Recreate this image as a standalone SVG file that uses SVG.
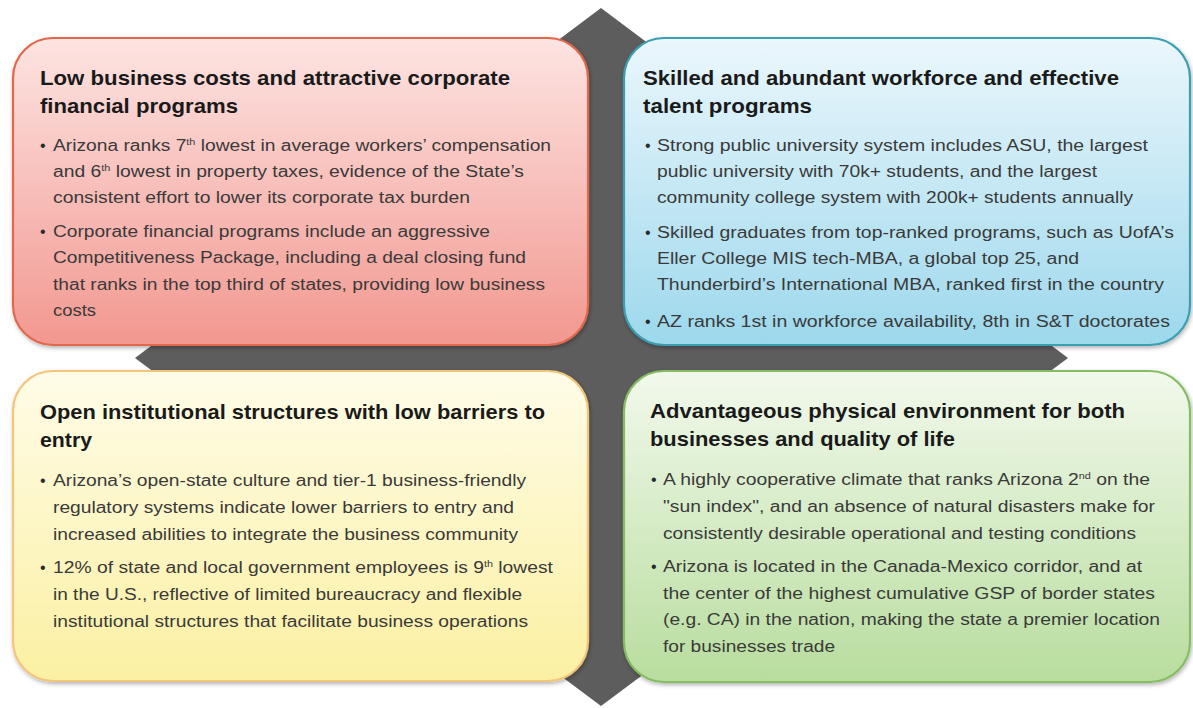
<svg xmlns="http://www.w3.org/2000/svg" width="1193" height="708" viewBox="0 0 1193 708">
<style>
.t{font-family:"Liberation Sans",Arial,sans-serif;font-weight:bold;font-size:21px;fill:#1a1a1a}
.b{font-family:"Liberation Sans",Arial,sans-serif;font-size:16px;fill:#3a3a3a}
.d{font-family:"Liberation Sans",Arial,sans-serif;font-size:16px;fill:#2a2a2a}
.sup{font-size:9px}
.box{stroke-width:2.2}
</style>
<defs>
<linearGradient id="gr" x1="0" y1="0" x2="0" y2="1"><stop offset="0" stop-color="#fde4e2"/><stop offset="1" stop-color="#f29890"/></linearGradient>
<linearGradient id="gb" x1="0" y1="0" x2="0" y2="1"><stop offset="0" stop-color="#ebf7fc"/><stop offset="1" stop-color="#9dd8ec"/></linearGradient>
<linearGradient id="gy" x1="0" y1="0" x2="0" y2="1"><stop offset="0" stop-color="#fffce8"/><stop offset="1" stop-color="#fbf0a2"/></linearGradient>
<linearGradient id="gg" x1="0" y1="0" x2="0" y2="1"><stop offset="0" stop-color="#f2f9ec"/><stop offset="1" stop-color="#b8dd9e"/></linearGradient>
<filter id="sh" x="-5%" y="-5%" width="110%" height="115%"><feDropShadow dx="1" dy="2" stdDeviation="2" flood-color="#000" flood-opacity="0.3"/></filter>
</defs>
<rect width="1193" height="708" fill="#ffffff"/>
<g id="connectors">
<polygon id="diamond" points="601,8 1068,358 601,706 135,358" fill="#5d5d5d"/>
</g>
<g id="node-costs">
<rect class="box" x="13" y="38" width="575" height="307" rx="40" fill="url(#gr)" stroke="#e2684c" filter="url(#sh)"/>
<text class="t" x="40" y="85" textLength="470" lengthAdjust="spacingAndGlyphs">Low business costs and attractive corporate</text>
<text class="t" x="40" y="113" textLength="198" lengthAdjust="spacingAndGlyphs">financial programs</text>
<text class="d" x="40" y="151">•</text>
<text class="b" x="53" y="151" textLength="498" lengthAdjust="spacingAndGlyphs">Arizona ranks 7<tspan class="sup" dy="-6">th</tspan><tspan dy="6"> lowest in average workers’ compensation</tspan></text>
<text class="b" x="53" y="177" textLength="471" lengthAdjust="spacingAndGlyphs">and 6<tspan class="sup" dy="-6">th</tspan><tspan dy="6"> lowest in property taxes, evidence of the State’s</tspan></text>
<text class="b" x="53" y="203" textLength="417" lengthAdjust="spacingAndGlyphs">consistent effort to lower its corporate tax burden</text>
<text class="d" x="40" y="237">•</text>
<text class="b" x="53" y="237" textLength="437" lengthAdjust="spacingAndGlyphs">Corporate financial programs include  an aggressive</text>
<text class="b" x="53" y="263" textLength="473" lengthAdjust="spacingAndGlyphs">Competitiveness Package,  including  a deal closing  fund</text>
<text class="b" x="53" y="290" textLength="492" lengthAdjust="spacingAndGlyphs">that ranks in the top third of states,  providing low business</text>
<text class="b" x="53" y="316" textLength="43" lengthAdjust="spacingAndGlyphs">costs</text>
</g>
<g id="node-workforce">
<rect class="box" x="624" y="38" width="566" height="307" rx="40" fill="url(#gb)" stroke="#3a9fb1" filter="url(#sh)"/>
<text class="t" x="643" y="85" textLength="476" lengthAdjust="spacingAndGlyphs">Skilled and abundant workforce and effective</text>
<text class="t" x="643" y="113" textLength="169" lengthAdjust="spacingAndGlyphs">talent programs</text>
<text class="d" x="645" y="151">•</text>
<text class="b" x="657" y="151" textLength="491" lengthAdjust="spacingAndGlyphs">Strong public university  system  includes ASU, the largest</text>
<text class="b" x="657" y="177" textLength="440" lengthAdjust="spacingAndGlyphs">public university with 70k+ students,  and the largest</text>
<text class="b" x="657" y="203" textLength="476" lengthAdjust="spacingAndGlyphs">community college  system  with 200k+ students annually</text>
<text class="d" x="645" y="238">•</text>
<text class="b" x="657" y="238" textLength="517" lengthAdjust="spacingAndGlyphs">Skilled graduates from top-ranked programs, such  as UofA’s</text>
<text class="b" x="657" y="264" textLength="422" lengthAdjust="spacingAndGlyphs">Eller College MIS tech-MBA,  a global top 25,  and</text>
<text class="b" x="657" y="290" textLength="507" lengthAdjust="spacingAndGlyphs">Thunderbird’s International MBA,  ranked first in the country</text>
<text class="d" x="645" y="327">•</text>
<text class="b" x="657" y="327" textLength="513" lengthAdjust="spacingAndGlyphs">AZ ranks 1st in workforce availability,  8th in S&amp;T doctorates</text>
</g>
<g id="node-institutional">
<rect class="box" x="13" y="371" width="575" height="310" rx="40" fill="url(#gy)" stroke="#f3c57a" filter="url(#sh)"/>
<text class="t" x="40" y="419" textLength="505" lengthAdjust="spacingAndGlyphs">Open institutional structures with low barriers to</text>
<text class="t" x="40" y="447" textLength="52" lengthAdjust="spacingAndGlyphs">entry</text>
<text class="d" x="40" y="486">•</text>
<text class="b" x="53" y="486" textLength="473" lengthAdjust="spacingAndGlyphs">Arizona’s open-state culture  and tier-1 business-friendly</text>
<text class="b" x="53" y="513" textLength="461" lengthAdjust="spacingAndGlyphs">regulatory systems  indicate  lower barriers to entry and</text>
<text class="b" x="53" y="540" textLength="465" lengthAdjust="spacingAndGlyphs">increased abilities  to integrate the business  community</text>
<text class="d" x="40" y="573">•</text>
<text class="b" x="53" y="573" textLength="500" lengthAdjust="spacingAndGlyphs">12% of state  and local government employees  is 9<tspan class="sup" dy="-6">th</tspan><tspan dy="6"> lowest</tspan></text>
<text class="b" x="53" y="600" textLength="469" lengthAdjust="spacingAndGlyphs">in the U.S., reflective  of limited  bureaucracy and flexible</text>
<text class="b" x="53" y="627" textLength="475" lengthAdjust="spacingAndGlyphs">institutional structures  that facilitate  business  operations</text>
</g>
<g id="node-environment">
<rect class="box" x="624" y="371" width="566" height="311" rx="40" fill="url(#gg)" stroke="#86bd62" filter="url(#sh)"/>
<text class="t" x="650" y="418" textLength="475" lengthAdjust="spacingAndGlyphs">Advantageous physical environment for both</text>
<text class="t" x="650" y="446" textLength="305" lengthAdjust="spacingAndGlyphs">businesses and quality of life</text>
<text class="d" x="651" y="485">•</text>
<text class="b" x="663" y="485" textLength="487" lengthAdjust="spacingAndGlyphs">A highly cooperative  climate  that ranks Arizona 2<tspan class="sup" dy="-6">nd</tspan><tspan dy="6"> on the</tspan></text>
<text class="b" x="663" y="512" textLength="492" lengthAdjust="spacingAndGlyphs">"sun index", and an absence  of natural disasters  make for</text>
<text class="b" x="663" y="539" textLength="473" lengthAdjust="spacingAndGlyphs">consistently desirable operational and testing conditions</text>
<text class="d" x="651" y="572">•</text>
<text class="b" x="663" y="572" textLength="479" lengthAdjust="spacingAndGlyphs">Arizona is located  in  the Canada-Mexico corridor,  and at</text>
<text class="b" x="663" y="599" textLength="492" lengthAdjust="spacingAndGlyphs">the center of the highest cumulative  GSP of border states</text>
<text class="b" x="663" y="625" textLength="497" lengthAdjust="spacingAndGlyphs">(e.g. CA) in the nation,  making  the state  a premier location</text>
<text class="b" x="663" y="652" textLength="172" lengthAdjust="spacingAndGlyphs">for businesses trade</text>
</g>
</svg>
